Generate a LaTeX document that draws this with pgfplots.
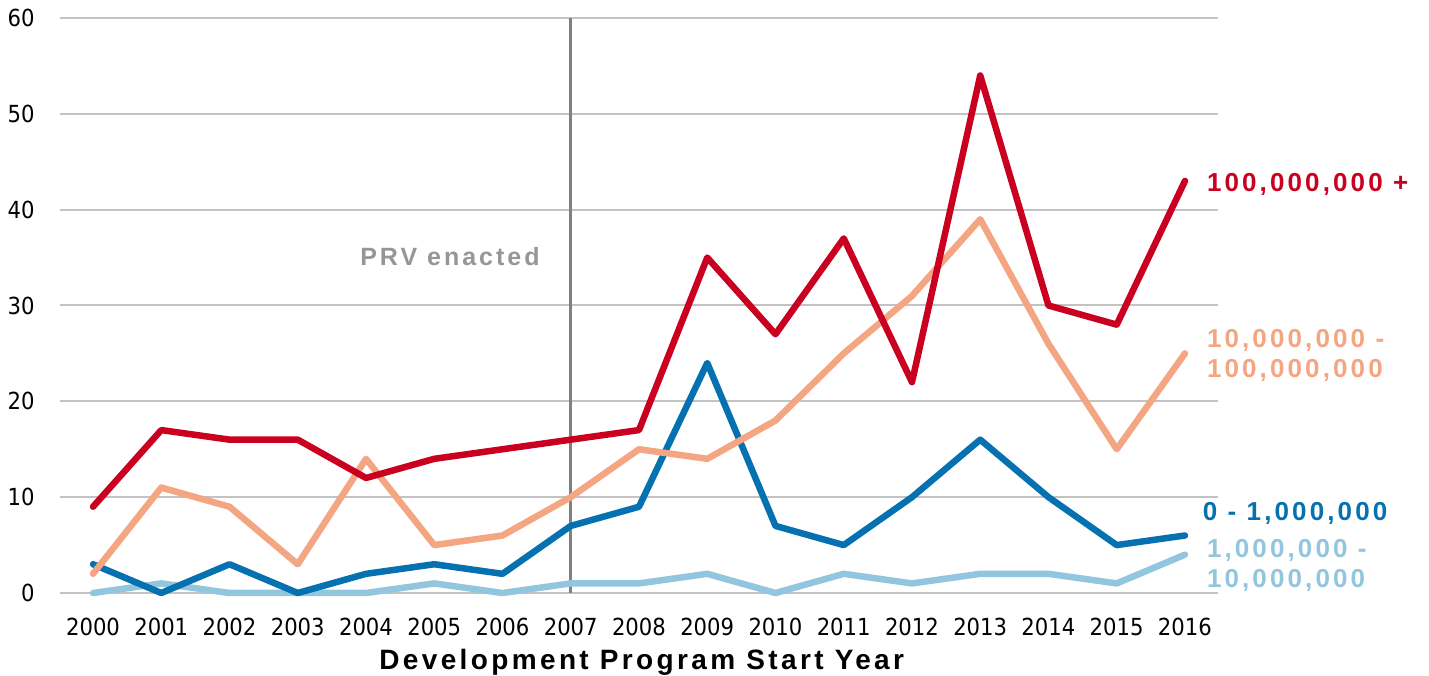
\documentclass[border=0pt]{standalone}
\usepackage{pgfplots}
\pgfplotsset{compat=1.18}
\usepackage{fontspec}
\setmainfont{Liberation Sans}
\newfontfamily\tickfont{DejaVu Sans Condensed}
\newfontfamily\lblfont{Liberation Sans}[LetterSpace=12]
\definecolor{cRed}{RGB}{202,0,32}
\definecolor{cOrange}{RGB}{244,165,130}
\definecolor{cBlue}{RGB}{5,113,176}
\definecolor{cLight}{RGB}{146,197,222}
\definecolor{cGrid}{RGB}{195,195,195}
\definecolor{cVline}{RGB}{128,128,128}
\definecolor{cText}{RGB}{150,150,150}
\begin{document}
\begin{tikzpicture}
\begin{axis}[name=ax,
  scale only axis, width=1158pt, height=575pt,
  xmin=1999.516, xmax=2016.484, ymin=0, ymax=60,
  axis line style={draw=none},
  ymajorgrids, grid style={cGrid, line width=2pt},
  xtick={2000,...,2016}, ytick={0,10,...,60},
  major tick length=0pt,
  /pgf/number format/1000 sep={},
  /pgf/number format/assume math mode=true,
  tick label style={font=\tickfont\fontsize{23.5}{23.5}\selectfont, text=black},
  xticklabel style={yshift=-22pt},
  yticklabel style={xshift=-22pt},
  clip=false,
]
\draw[cVline, line width=3pt] (axis cs:2007,0) -- (axis cs:2007,60);
\addplot[cLight, line width=6.5pt, line join=round, line cap=round] coordinates {
(2000,0)(2001,1)(2002,0)(2003,0)(2004,0)(2005,1)(2006,0)(2007,1)(2008,1)(2009,2)(2010,0)(2011,2)(2012,1)(2013,2)(2014,2)(2015,1)(2016,4)};
\addplot[cBlue, line width=6.5pt, line join=round, line cap=round] coordinates {
(2000,3)(2001,0)(2002,3)(2003,0)(2004,2)(2005,3)(2006,2)(2007,7)(2008,9)(2009,24)(2010,7)(2011,5)(2012,10)(2013,16)(2014,10)(2015,5)(2016,6)};
\addplot[cOrange, line width=6.5pt, line join=round, line cap=round] coordinates {
(2000,2)(2001,11)(2002,9)(2003,3)(2004,14)(2005,5)(2006,6)(2007,10)(2008,15)(2009,14)(2010,18)(2011,25)(2012,31)(2013,39)(2014,26)(2015,15)(2016,25)};
\addplot[cRed, line width=6.5pt, line join=round, line cap=round] coordinates {
(2000,9)(2001,17)(2002,16)(2003,16)(2004,12)(2005,14)(2006,15)(2007,16)(2008,17)(2009,35)(2010,27)(2011,37)(2012,22)(2013,54)(2014,30)(2015,28)(2016,43)};
\node[text=cText, font=\lblfont\bfseries\fontsize{25}{25}\selectfont] at (axis cs:2005.23,35.06) {PRV enacted};
\node[anchor=west, text=cRed, font=\lblfont\bfseries\fontsize{26}{26}\selectfont, inner sep=0pt] at (axis cs:2016.32,42.6) {100,000,000 +};
\node[anchor=west, align=left, text=cOrange, font=\lblfont\bfseries\fontsize{26}{30}\selectfont, inner sep=0pt] at (axis cs:2016.32,24.8) {10,000,000 -\\100,000,000};
\node[anchor=west, text=cBlue, font=\lblfont\bfseries\fontsize{26}{26}\selectfont, inner sep=0pt] at (axis cs:2016.26,8.35) {0 - 1,000,000};
\node[anchor=west, align=left, text=cLight, font=\lblfont\bfseries\fontsize{26}{30}\selectfont, inner sep=0pt] at (axis cs:2016.32,2.9) {1,000,000 -\\10,000,000};
\node[font=\lblfont\bfseries\fontsize{28}{28}\selectfont] at (axis cs:2008.04,-7.2) {Development Program Start Year};
\end{axis}
\pgfresetboundingbox
\path (ax.south west) ++(-60pt,-83pt) coordinate (bl);
\path (ax.north east) ++(211pt,18pt) coordinate (tr);
\path[use as bounding box] (bl) rectangle (tr);
\end{tikzpicture}
\end{document}
